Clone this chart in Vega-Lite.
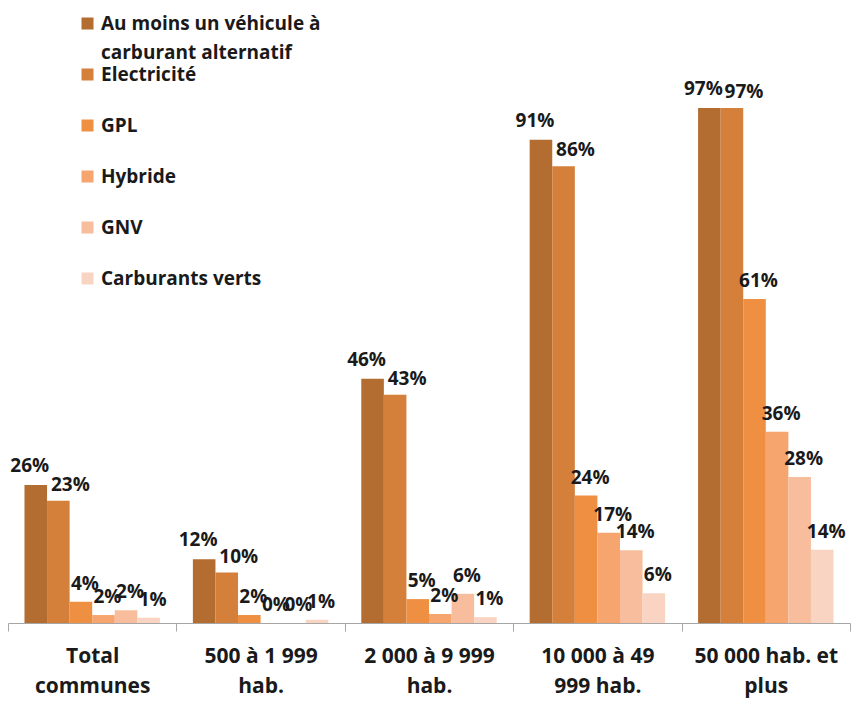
{
  "$schema": "https://vega.github.io/schema/vega-lite/v6.json",
  "width": 842,
  "height": 531,
  "autosize": {"type": "none"},
  "padding": {"left": 8, "top": 92, "right": 7, "bottom": 79},
  "background": "white",
  "data": {
    "values": [
      {"categorie": "Total communes", "type": "Au moins un véhicule à carburant alternatif", "valeur": 0.26},
      {"categorie": "Total communes", "type": "Electricité", "valeur": 0.23},
      {"categorie": "Total communes", "type": "GPL", "valeur": 0.04},
      {"categorie": "Total communes", "type": "Hybride", "valeur": 0.015},
      {"categorie": "Total communes", "type": "GNV", "valeur": 0.024},
      {"categorie": "Total communes", "type": "Carburants verts", "valeur": 0.01},
      {"categorie": "500 à 1 999 hab.", "type": "Au moins un véhicule à carburant alternatif", "valeur": 0.12},
      {"categorie": "500 à 1 999 hab.", "type": "Electricité", "valeur": 0.095},
      {"categorie": "500 à 1 999 hab.", "type": "GPL", "valeur": 0.015},
      {"categorie": "500 à 1 999 hab.", "type": "Hybride", "valeur": 0.0},
      {"categorie": "500 à 1 999 hab.", "type": "GNV", "valeur": 0.0},
      {"categorie": "500 à 1 999 hab.", "type": "Carburants verts", "valeur": 0.006},
      {"categorie": "2 000 à 9 999 hab.", "type": "Au moins un véhicule à carburant alternatif", "valeur": 0.46},
      {"categorie": "2 000 à 9 999 hab.", "type": "Electricité", "valeur": 0.43},
      {"categorie": "2 000 à 9 999 hab.", "type": "GPL", "valeur": 0.045},
      {"categorie": "2 000 à 9 999 hab.", "type": "Hybride", "valeur": 0.017},
      {"categorie": "2 000 à 9 999 hab.", "type": "GNV", "valeur": 0.055},
      {"categorie": "2 000 à 9 999 hab.", "type": "Carburants verts", "valeur": 0.011},
      {"categorie": "10 000 à 49 999 hab.", "type": "Au moins un véhicule à carburant alternatif", "valeur": 0.91},
      {"categorie": "10 000 à 49 999 hab.", "type": "Electricité", "valeur": 0.86},
      {"categorie": "10 000 à 49 999 hab.", "type": "GPL", "valeur": 0.24},
      {"categorie": "10 000 à 49 999 hab.", "type": "Hybride", "valeur": 0.17},
      {"categorie": "10 000 à 49 999 hab.", "type": "GNV", "valeur": 0.137},
      {"categorie": "10 000 à 49 999 hab.", "type": "Carburants verts", "valeur": 0.056},
      {"categorie": "50 000 hab. et plus", "type": "Au moins un véhicule à carburant alternatif", "valeur": 0.97},
      {"categorie": "50 000 hab. et plus", "type": "Electricité", "valeur": 0.97},
      {"categorie": "50 000 hab. et plus", "type": "GPL", "valeur": 0.61},
      {"categorie": "50 000 hab. et plus", "type": "Hybride", "valeur": 0.36},
      {"categorie": "50 000 hab. et plus", "type": "GNV", "valeur": 0.275},
      {"categorie": "50 000 hab. et plus", "type": "Carburants verts", "valeur": 0.138}
    ]
  },
  "encoding": {
    "x": {
      "field": "categorie",
      "type": "nominal",
      "sort": ["Total communes", "500 à 1 999 hab.", "2 000 à 9 999 hab.", "10 000 à 49 999 hab.", "50 000 hab. et plus"],
      "scale": {"paddingInner": 0, "paddingOuter": 0},
      "axis": {
        "title": null,
        "labelAngle": 0,
        "domainColor": "#a6a6a6",
        "tickColor": "#a6a6a6",
        "tickBand": "extent",
        "tickSize": 8,
        "labelPadding": 14,
        "labelFont": "Open Sans",
        "labelFontWeight": "bold",
        "labelFontSize": 21,
        "labelColor": "#1a1a1a",
        "labelLineHeight": 30,
        "labelLimit": 0,
        "labelExpr": "datum.label == 'Total communes' ? ['Total', 'communes'] : datum.label == '500 à 1 999 hab.' ? ['500 à 1 999', 'hab.'] : datum.label == '2 000 à 9 999 hab.' ? ['2 000 à 9 999', 'hab.'] : datum.label == '10 000 à 49 999 hab.' ? ['10 000 à 49', '999 hab.'] : datum.label == '50 000 hab. et plus' ? ['50 000 hab. et', 'plus'] : ''"
      }
    },
    "xOffset": {
      "field": "type",
      "type": "nominal",
      "sort": ["Au moins un véhicule à carburant alternatif", "Electricité", "GPL", "Hybride", "GNV", "Carburants verts"],
      "scale": {"paddingInner": 0, "paddingOuter": 0.73}
    },
    "y": {
      "field": "valeur",
      "type": "quantitative",
      "scale": {"domain": [0, 1]},
      "axis": null
    }
  },
  "layer": [
    {
      "mark": {"type": "bar"},
      "encoding": {
        "color": {
          "field": "type",
          "type": "nominal",
          "sort": ["Au moins un véhicule à carburant alternatif", "Electricité", "GPL", "Hybride", "GNV", "Carburants verts"],
          "scale": {
            "domain": ["Au moins un véhicule à carburant alternatif", "Electricité", "GPL", "Hybride", "GNV", "Carburants verts"],
            "range": ["#b46d31", "#d47f3a", "#ee8f42", "#f5a56d", "#f8bd9c", "#fad4c2"]
          },
          "legend": {
            "title": null,
            "orient": "none",
            "legendX": 70,
            "legendY": -78,
            "padding": 0,
            "symbolType": "square",
            "symbolSize": 144,
            "symbolStrokeWidth": 0,
            "symbolOpacity": 1,
            "labelFont": "Open Sans",
            "labelFontWeight": "bold",
            "labelFontSize": 19,
            "labelColor": "#1a1a1a",
            "labelLimit": 400,
            "labelOffset": 4,
            "labelBaseline": "top",
            "rowPadding": 2,
            "labelExpr": "datum.label == 'Au moins un véhicule à carburant alternatif' ? ['Au moins un véhicule à', 'carburant alternatif'] : [datum.label, '']",
            "encode": {
              "labels": {"update": {"dy": {"value": -9}, "lineHeight": {"value": 29}}}
            }
          }
        }
      }
    },
    {
      "transform": [{"filter": "datum.type == 'Au moins un véhicule à carburant alternatif'"}],
      "mark": {
        "type": "text",
        "baseline": "bottom",
        "dy": -9,
        "dx": -6,
        "font": "Open Sans",
        "fontWeight": "bold",
        "fontSize": 19,
        "color": "#1a1a1a"
      },
      "encoding": {
        "text": {"field": "valeur", "type": "quantitative", "format": ".0%"}
      }
    },
    {
      "transform": [{"filter": "datum.type == 'Electricité'"}],
      "mark": {
        "type": "text",
        "baseline": "bottom",
        "dy": -6,
        "dx": 12,
        "font": "Open Sans",
        "fontWeight": "bold",
        "fontSize": 19,
        "color": "#1a1a1a"
      },
      "encoding": {
        "text": {"field": "valeur", "type": "quantitative", "format": ".0%"}
      }
    },
    {
      "transform": [{"filter": "datum.type != 'Au moins un véhicule à carburant alternatif' && datum.type != 'Electricité'"}],
      "mark": {
        "type": "text",
        "baseline": "bottom",
        "dy": -8,
        "dx": 4,
        "font": "Open Sans",
        "fontWeight": "bold",
        "fontSize": 19,
        "color": "#1a1a1a"
      },
      "encoding": {
        "text": {"field": "valeur", "type": "quantitative", "format": ".0%"}
      }
    }
  ],
  "config": {"view": {"stroke": null}}
}
